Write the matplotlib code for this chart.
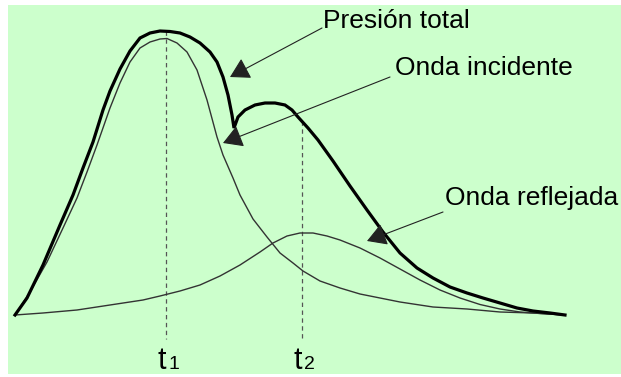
import numpy as np
import matplotlib
matplotlib.use('Agg')
import matplotlib.pyplot as plt

# tiempo (unidades arbitrarias) y presion
t_inc = [0, 15, 32, 48, 62, 72, 82, 95, 105, 115, 125, 135, 145, 152, 162, 172,
         182, 192, 202, 208, 218, 225, 238, 252, 265, 278, 288, 305, 325, 345,
         365, 385, 418, 452, 485, 518, 550]
p_inc = [0, 23, 53, 87, 117, 143, 170, 207, 232, 253, 267, 273, 276, 276.5, 272, 263,
         245, 215, 178, 160, 137, 120, 96, 78, 62, 52, 44, 34, 27, 21,
         17, 13, 8, 6, 3, 2, 0]

t_ref = [0, 28, 62, 95, 128, 145, 165, 185, 205, 225, 245, 258, 272, 285, 298,
         312, 325, 345, 365, 385, 405, 425, 445, 465, 485, 505, 525, 550]
p_ref = [0, 2, 5, 10, 15, 19, 24, 30, 39, 50, 63, 72, 79, 82, 82,
         79, 75, 67, 57, 46, 35, 25, 17, 10.5, 6, 3, 1.5, 0]

t_tot = [0, 12, 28, 45, 58, 68, 78, 88, 95, 105, 115, 125, 135, 145, 155, 165,
         175, 185, 195, 202, 208, 213, 217, 219, 223, 230, 240, 250, 260, 270,
         277, 283, 293, 303, 318, 335, 352, 368, 385, 402, 418, 435, 452, 468,
         485, 502, 518, 535, 550]
p_tot = [0, 17, 50, 90, 120, 147, 173, 205, 224, 246, 264, 277, 282, 284, 283.5, 282,
         278, 272, 263, 253, 238, 220, 200, 187, 198, 205, 210, 212, 212, 210,
         205, 198, 187, 175, 154, 129, 105, 83, 62, 47, 37, 28, 22, 17,
         12, 7, 4, 2, 0]

T1 = 151
T2 = 287

fig = plt.figure(figsize=(6.21, 3.77), dpi=100)
fig.patch.set_facecolor('white')
ax = fig.add_axes([8 / 621, 3 / 377, 613 / 621, 369 / 377])
ax.set_facecolor('#ccffcc')
ax.set_xlim(-7, 606)
ax.set_ylim(-59, 310)
ax.set_xticks([])
ax.set_yticks([])
for s in ax.spines.values():
    s.set_visible(False)

# lineas verticales en t1 y t2
for T in (T1, T2):
    top = np.interp(T, t_tot, p_tot)
    ax.plot([T, T], [top, -24], color='#555555', lw=0.9,
            linestyle=(0, (3.5, 2.8)), zorder=1)

ax.plot(t_inc, p_inc, color='#333333', lw=1.0, zorder=2)
ax.plot(t_ref, p_ref, color='#333333', lw=1.0, zorder=2)
ax.plot(t_tot, p_tot, color='black', lw=2.3, zorder=3,
        solid_joinstyle='miter')

fuente = 'Liberation Sans'
flecha = dict(arrowstyle='-|>,head_length=0.6,head_width=0.35', mutation_scale=20,
              color='#222222', lw=0.8, shrinkA=0, shrinkB=0)

ax.annotate('', xy=(215, 238), xytext=(307, 287), arrowprops=flecha)
ax.annotate('', xy=(208, 172), xytext=(375, 238), arrowprops=flecha)
ax.annotate('', xy=(352, 74), xytext=(428, 103), arrowprops=flecha)

ax.text(308, 287, 'Presión total', fontsize=19, family=fuente, va='baseline')
ax.text(380, 240, 'Onda incidente', fontsize=19, family=fuente, va='baseline')
ax.text(430, 110, 'Onda reflejada', fontsize=19, family=fuente, va='baseline')

# etiquetas t1, t2
for T, sub in ((T1, '1'), (T2, '2')):
    ax.text(T - 9, -54, 't', fontsize=22, family=fuente, va='baseline')
    ax.text(T + 2, -54, sub, fontsize=14, family=fuente, va='baseline')

plt.savefig('out.png', dpi=100)
